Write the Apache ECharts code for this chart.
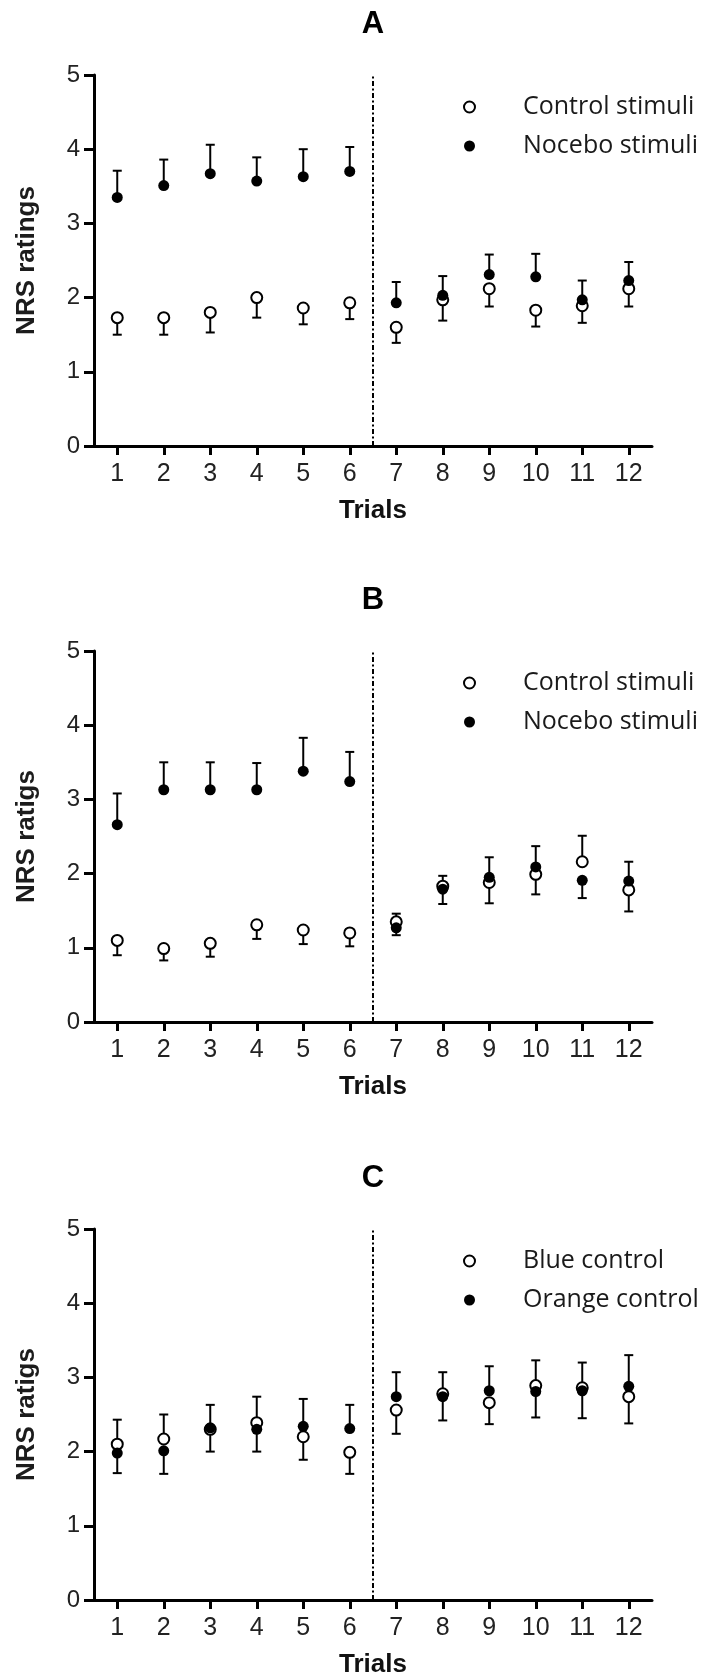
<!DOCTYPE html>
<html>
<head>
<meta charset="utf-8">
<script src="https://cdn.jsdelivr.net/npm/echarts@6/dist/echarts.min.js"></script>
<style>
html,body{margin:0;padding:0;background:#fff;}
#chart{width:704px;height:1680px;}
</style>
</head>
<body>
<div id="chart"></div>
<script>
// ---- data ----
var trials = [1, 2, 3, 4, 5, 6, 7, 8, 9, 10, 11, 12];
var yTicks = [0, 1, 2, 3, 4, 5];
var panelTitles = ['A', 'B', 'C'];
var yNames = ['NRS ratings', 'NRS ratigs', 'NRS ratigs'];
var seriesNamesAB = ['Control stimuli', 'Nocebo stimuli'];
var seriesNamesC = ['Blue control', 'Orange control'];

// Panel A
var ctrlA    = [1.73, 1.73, 1.80, 2.00, 1.86, 1.93, 1.60, 1.97, 2.12, 1.83, 1.89, 2.12];
var ctrlAErr = [1.50, 1.50, 1.53, 1.73, 1.64, 1.71, 1.39, 1.69, 1.88, 1.61, 1.66, 1.88];
var nocA     = [3.35, 3.51, 3.67, 3.57, 3.63, 3.70, 1.93, 2.03, 2.31, 2.28, 1.97, 2.23];
var nocAErr  = [3.71, 3.86, 4.06, 3.89, 4.00, 4.03, 2.21, 2.29, 2.58, 2.59, 2.23, 2.48];
// Panel B
var ctrlB    = [1.10, 0.99, 1.06, 1.31, 1.24, 1.20, 1.35, 1.83, 1.88, 1.99, 2.16, 1.78];
var ctrlBErr = [0.90, 0.83, 0.88, 1.12, 1.05, 1.02, 1.17, 1.59, 1.60, 1.72, 2.51, 1.49];
var nocB     = [2.66, 3.13, 3.13, 3.13, 3.38, 3.24, 1.27, 1.79, 1.95, 2.09, 1.91, 1.90];
var nocBErr  = [3.08, 3.50, 3.50, 3.49, 3.83, 3.64, 1.46, 1.97, 2.22, 2.37, 1.67, 2.16];
// Panel C
var blueC      = [2.10, 2.17, 2.30, 2.39, 2.20, 1.99, 2.56, 2.78, 2.66, 2.89, 2.86, 2.74];
var blueCErr   = [2.43, 2.50, 2.00, 2.74, 1.89, 1.70, 2.24, 3.07, 2.37, 3.23, 3.20, 2.38];
var orangeC    = [1.98, 2.01, 2.32, 2.30, 2.34, 2.31, 2.74, 2.74, 2.82, 2.81, 2.82, 2.88];
var orangeCErr = [1.71, 1.70, 2.63, 2.00, 2.71, 2.63, 3.07, 2.42, 3.15, 2.46, 2.45, 3.30];

var dividerX = 6.5;

// ---- build ----
var chart = echarts.init(document.getElementById('chart'), null, {renderer: 'canvas'});

var panelTops = [75, 651, 1229];
var gridH = 371;
var gridLeft = 94, gridW = 558;
var FONT = '"Liberation Sans", Arial, sans-serif';

var panels = [
  {open: ctrlA, openErr: ctrlAErr, fill: nocA, fillErr: nocAErr, names: seriesNamesAB},
  {open: ctrlB, openErr: ctrlBErr, fill: nocB, fillErr: nocBErr, names: seriesNamesAB},
  {open: blueC, openErr: blueCErr, fill: orangeC, fillErr: orangeCErr, names: seriesNamesC}
];

function zip(xs, a, b) {
  return xs.map(function (x, i) { return b ? [x, a[i], b[i]] : [x, a[i]]; });
}

function errRender(params, api) {
  var x = api.value(0), m = api.value(1), e = api.value(2);
  var p0 = api.coord([x, m]);
  var p1 = api.coord([x, e]);
  var hw = 4.5;
  return {
    type: 'group',
    children: [
      {type: 'line', shape: {x1: p0[0], y1: p0[1], x2: p1[0], y2: p1[1]}, style: {stroke: '#000', lineWidth: 2}},
      {type: 'line', shape: {x1: p1[0] - hw, y1: p1[1], x2: p1[0] + hw, y2: p1[1]}, style: {stroke: '#000', lineWidth: 2}}
    ]
  };
}

var grids = [], xAxes = [], yAxes = [], series = [], titles = [], legends = [];

panels.forEach(function (p, k) {
  var top = panelTops[k];
  grids.push({left: gridLeft, top: top, width: gridW, height: gridH, containLabel: false});
  xAxes.push({
    gridIndex: k, type: 'value', min: 0.5, max: 12.5,
    name: 'Trials', nameLocation: 'middle', nameGap: 52,
    nameTextStyle: {fontFamily: FONT, fontWeight: 'bold', fontSize: 26, color: '#111'},
    axisLine: {show: true, onZero: false, lineStyle: {color: '#000', width: 3}},
    axisTick: {show: true, length: 9, lineStyle: {color: '#000', width: 3}, customValues: trials},
    axisLabel: {fontFamily: FONT, fontSize: 25, color: '#222', margin: 16, customValues: trials},
    splitLine: {show: false}
  });
  yAxes.push({
    gridIndex: k, type: 'value', min: 0, max: 5, interval: 1,
    name: yNames[k], nameLocation: 'middle', nameGap: 54, nameRotate: 90,
    nameTextStyle: {fontFamily: FONT, fontWeight: 'bold', fontSize: 26, color: '#1c1c1c'},
    axisLine: {show: true, lineStyle: {color: '#000', width: 3}},
    axisTick: {show: true, length: 10, lineStyle: {color: '#000', width: 3}},
    axisLabel: {fontFamily: FONT, fontSize: 24, color: '#222', margin: 14},
    splitLine: {show: false}
  });
  titles.push({
    text: panelTitles[k], left: 373, top: top - 66, textAlign: 'center', padding: 0,
    textStyle: {fontFamily: FONT, fontWeight: 'bold', fontSize: 31, color: '#000'}
  });
  legends.push({
    data: p.names, orient: 'vertical', left: 458, top: top + 13,
    itemWidth: 11, itemHeight: 11, itemGap: 11, selectedMode: false, icon: 'circle',
    textStyle: {fontFamily: '"Open Sans", sans-serif', fontSize: 25, color: '#1a1a1a', lineHeight: 28, padding: [0, 0, 0, 43]}
  });
  // error bars
  series.push({
    name: 'err-open-' + k, type: 'custom', xAxisIndex: k, yAxisIndex: k,
    renderItem: errRender, data: zip(trials, p.open, p.openErr),
    encode: {x: 0, y: [1, 2]}, z: 2, silent: true
  });
  series.push({
    name: 'err-fill-' + k, type: 'custom', xAxisIndex: k, yAxisIndex: k,
    renderItem: errRender, data: zip(trials, p.fill, p.fillErr),
    encode: {x: 0, y: [1, 2]}, z: 2, silent: true
  });
  // points
  series.push({
    name: p.names[0], type: 'scatter', xAxisIndex: k, yAxisIndex: k,
    data: zip(trials, p.open), symbol: 'circle', symbolSize: 11, z: 3,
    itemStyle: {color: '#fff', borderColor: '#000', borderWidth: 2, opacity: 1},
    markLine: {
      silent: true, symbol: ['none', 'none'], label: {show: false},
      lineStyle: {color: '#000', width: 2, type: [5, 2.5, 2, 2.5]},
      data: [{xAxis: dividerX}]
    }
  });
  series.push({
    name: p.names[1], type: 'scatter', xAxisIndex: k, yAxisIndex: k,
    data: zip(trials, p.fill), symbol: 'circle', symbolSize: 11, z: 4,
    itemStyle: {color: '#000', borderColor: '#000', borderWidth: 0, opacity: 1}
  });
});

chart.setOption({
  animation: false,
  backgroundColor: '#fff',
  title: titles,
  legend: legends,
  grid: grids,
  xAxis: xAxes,
  yAxis: yAxes,
  series: series
});
</script>
</body>
</html>
